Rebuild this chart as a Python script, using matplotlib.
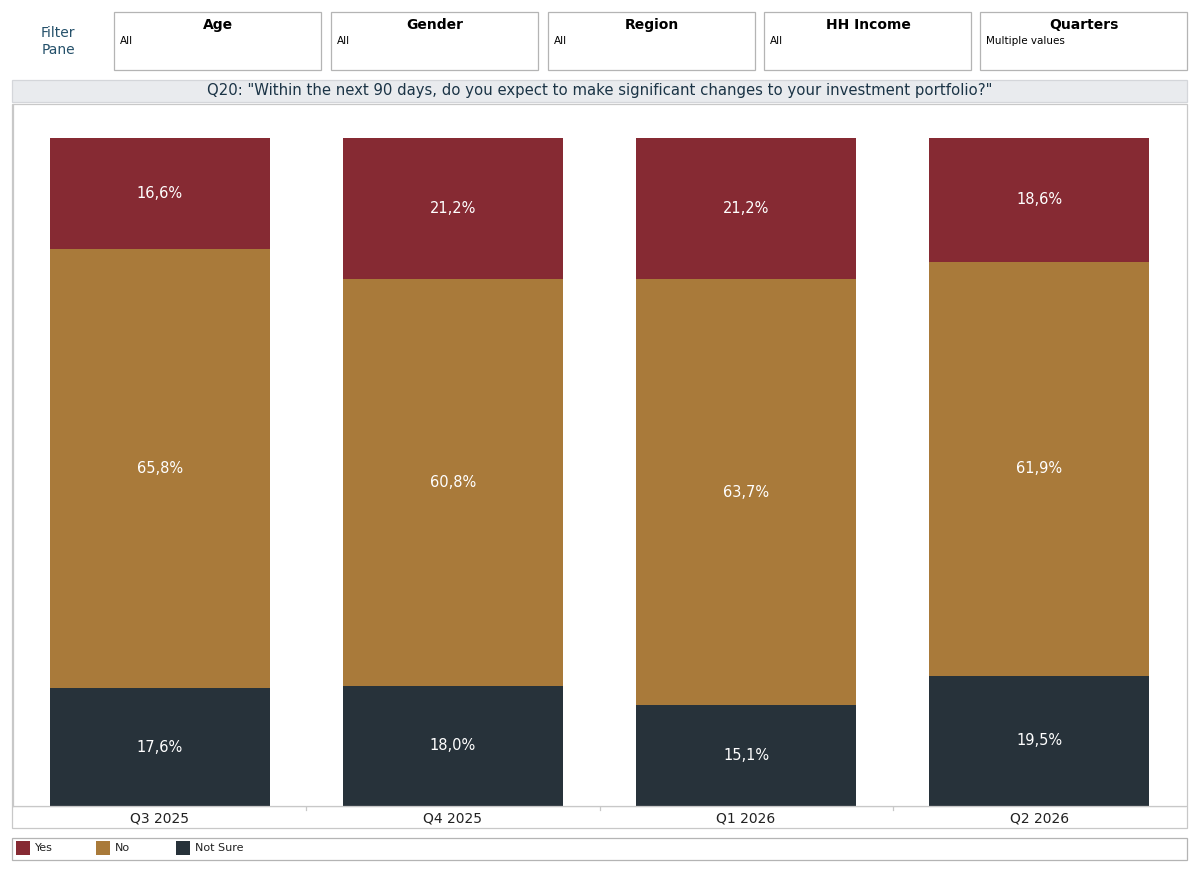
import matplotlib.pyplot as plt
import matplotlib.patches as mpatches
import numpy as np

# data
quarters = ['Q3 2025', 'Q4 2025', 'Q1 2026', 'Q2 2026']
yes_vals = [16.6, 21.2, 21.2, 18.6]
no_vals = [65.8, 60.8, 63.7, 61.9]
not_sure_vals = [17.6, 18.0, 15.1, 19.5]
series_names = ['Yes', 'No', 'Not Sure']
filter_names = ['Age', 'Gender', 'Region', 'HH Income', 'Quarters']
filter_values = ['All', 'All', 'All', 'All', 'Multiple values']
title = 'Q20: "Within the next 90 days, do you expect to make significant changes to your investment portfolio?"'

colors = {'Yes': '#862a33', 'No': '#a97a3a', 'Not Sure': '#27323a'}
border = '#b4b4b4'
W, H = 1199, 872

fig = plt.figure(figsize=(W / 100, H / 100), dpi=100)

def fx(px):
    return px / W

def fy(py):
    return 1 - py / H

def box(x0, y0, x1, y1, fc='white', ec=border, lw=0.9):
    fig.patches.append(mpatches.Rectangle((fx(x0), fy(y1)), fx(x1 - x0), (y1 - y0) / H,
                                          transform=fig.transFigure, fc=fc, ec=ec, lw=lw,
                                          zorder=-5))

# filter pane
fig.text(fx(58), fy(33), 'Filter', ha='center', va='center', fontsize=10, color='#24506a')
fig.text(fx(58), fy(50), 'Pane', ha='center', va='center', fontsize=10, color='#24506a')
box_x = [114, 331, 548, 764, 980]
for x0, name, val in zip(box_x, filter_names, filter_values):
    box(x0, 12, x0 + 207, 70)
    fig.text(fx(x0 + 104), fy(25), name, ha='center', va='center', fontsize=10,
             fontweight='bold', color='black')
    fig.text(fx(x0 + 6), fy(41), val, ha='left', va='center', fontsize=7.5, color='black')

# title bar
box(12, 80, 1187, 102, fc='#e9ebee', ec='#d4d6da')
fig.text(fx(600), fy(91), title, ha='center', va='center', fontsize=10.7, color='#1b3446')

# main chart
box(12, 104, 1187, 828, fc='white', ec='#c8c8c8')
ax = fig.add_axes([fx(13), fy(806), fx(1173), 701 / H])
ax.patch.set_alpha(0)
x = np.arange(len(quarters))
bottom = np.zeros(len(quarters))
for name, vals in zip(['Not Sure', 'No', 'Yes'], [not_sure_vals, no_vals, yes_vals]):
    vals = np.array(vals)
    ax.bar(x, vals, 0.75, bottom=bottom, color=colors[name], label=name)
    for xi, b, v in zip(x, bottom, vals):
        ax.text(xi, b + v / 2, f'{v:.1f}%'.replace('.', ','), ha='center', va='center',
                fontsize=10.5, color='white')
    bottom += vals
ax.set_xlim(-0.5, len(quarters) - 0.5)
ax.set_ylim(0, 104.9)
ax.set_yticks([])
ax.set_xticks([])
for s in ax.spines.values():
    s.set_color('#c8c8c8')
    s.set_linewidth(0.9)
ax.spines['top'].set_visible(False)
ax.spines['right'].set_visible(False)

# category label strip
ax2 = fig.add_axes([fx(13), fy(828), fx(1173), 22 / H], sharex=ax)
ax2.patch.set_alpha(0)
ax2.set_ylim(0, 1)
for s in ax2.spines.values():
    s.set_visible(False)
ax2.set_yticks([])
ax2.tick_params(axis='x', length=0)
for b in np.arange(0.5, len(quarters) - 1, 1):
    ax2.plot([b, b], [0.8, 1.0], color='#c8c8c8', lw=0.9)
ax2.axhline(1.0, color='#c8c8c8', lw=0.9)
for xi, q in zip(x, quarters):
    ax2.text(xi, 0.45, q, ha='center', va='center', fontsize=10, color='#222222')
ax2.set_xticks([])

# legend
box(12, 838, 1187, 860, fc='white', ec=border)
leg_x = [16, 96, 176]
for lx, name in zip(leg_x, series_names):
    fig.patches.append(mpatches.Rectangle((fx(lx), fy(855)), fx(14), 14 / H,
                                          transform=fig.transFigure, fc=colors[name], ec='none'))
    fig.text(fx(lx + 19), fy(848), name, ha='left', va='center', fontsize=8, color='#222222')

fig.savefig('out.png', dpi=100)
